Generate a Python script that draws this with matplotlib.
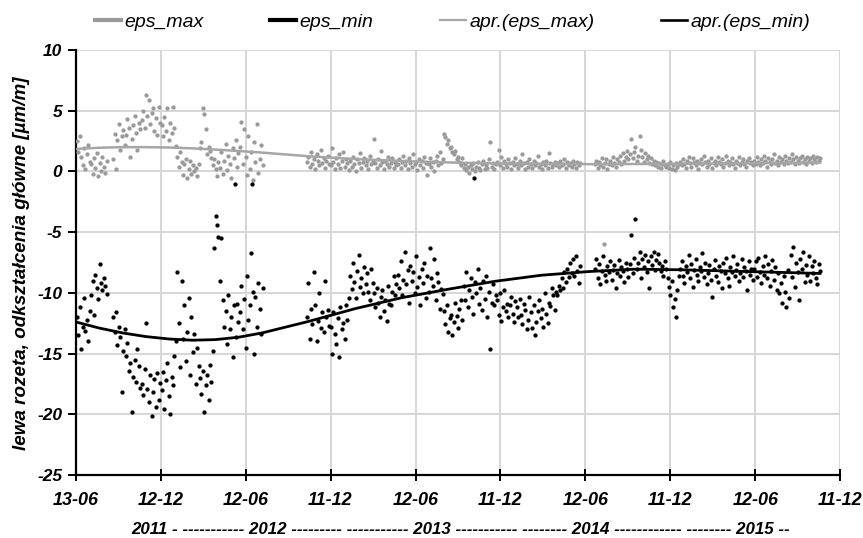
import numpy as np
import matplotlib
matplotlib.use("Agg")
import matplotlib.pyplot as plt
from matplotlib.lines import Line2D

plt.rcParams['font.family'] = ['Liberation Sans', 'DejaVu Sans']

# ---------------- data (days since 2011-06-13) ----------------
seg_days = [(2, 66), (80, 401), (496, 1083), (1115, 1599)]

eps_min_seg1 = [-12.0, -13.5, -11.2, -14.6, -12.8, -10.4, -13.1, -12.2, -14.0, -11.5,
                -10.2, -9.0, -11.8, -8.5, -9.6, -10.5, -7.6, -9.2, -9.8, -8.8, -9.4, -10.1]
eps_min_seg2 = [-12.0, -13.2, -11.6, -14.3, -12.8, -13.6, -18.2, -14.8, -13.0,
                -15.2, -14.1, -16.4, -15.8, -19.8, -16.9, -15.5, -17.3, -14.6, -16.0, -17.8,
                -17.5, -18.4, -16.3, -12.5, -17.9, -19.0, -16.8, -20.1, -18.2, -17.1, -19.4, -16.6, -18.8, -17.4,
                -18.0, -16.5, -19.6, -17.2, -15.8, -18.5, -20.0, -16.9, -17.6, -15.2,
                -14.0, -8.3, -12.5, -16.1, -9.0, -13.8, -11.0, -15.6, -13.2, -10.4, -16.8, -12.0, -14.9, -13.4,
                -17.5, -14.5, -16.0,
                -17.0, -18.3, -16.4, -19.8, -17.6, -16.8, -18.8, -15.9, -17.3,
                -14.8, -6.3, -3.7, -4.4, -5.4,
                -9.0, -5.5, -10.6, -12.8, -11.5, -14.2, -10.2, -13.0, -12.0, -15.3, -11.0, -13.6, -10.9, -12.4,
                -11.6, -9.4, -13.0, -10.5, -14.5, -8.6, -12.2, -11.0, -6.7, -9.9, -15.0, -10.3, -12.8, -9.2,
                -11.3, -13.4, -9.6]
eps_min_seg3 = [-12.0, -9.2, -13.8, -11.3, -12.6, -8.3, -11.0, -14.0, -12.3, -10.0, -12.9, -11.6, -13.2,
                -9.0, -12.0, -11.4, -12.7,
                -12.8, -15.0, -11.6, -13.4, -14.2, -12.1, -15.3, -11.2, -13.0, -12.5, -13.8, -11.0, -12.2, -10.4,
                -8.6, -9.7, -7.5, -9.1, -10.4, -8.2, -6.9, -9.5, -8.8, -10.0, -7.9, -9.3, -8.4, -9.9, -10.6, -8.0, -9.2,
                -10.0, -11.2, -9.6, -10.8, -12.0, -10.3, -9.8, -11.5, -10.6, -12.3, -9.4, -10.9, -11.0, -9.9, -8.6,
                -10.2, -9.3,
                -8.5, -9.6, -7.4, -10.2, -8.9, -6.6, -9.3, -8.1, -10.8, -7.8, -9.0, -8.3, -10.0, -7.0, -9.5, -8.7,
                -11.0, -8.0, -9.2, -7.5, -10.4, -8.6, -9.9, -6.3, -8.8, -9.4, -7.2, -10.6, -8.4, -9.1, -11.3, -9.7, -10.1,
                -11.5, -12.6, -11.0, -13.2, -12.1, -11.8, -13.5, -12.4, -10.8, -11.9, -12.9, -11.3, -10.6, -12.2,
                -9.4, -10.6, -8.3, -11.2, -9.8, -8.8, -10.3, -11.7, -9.1, -10.0, -8.0, -10.9, -9.6, -11.4, -9.0,
                -10.5, -8.6, -12.0, -9.9, -14.6, -10.8, -9.3, -11.0, -10.2,
                -10.6, -11.8, -10.0, -12.3, -11.2, -9.8, -11.5, -10.9, -12.0, -11.0, -10.3, -11.7, -12.4, -10.7,
                -11.2, -12.0, -10.5, -11.8, -12.6, -10.9, -11.4, -13.0, -12.2, -10.3, -11.6, -12.9, -11.0, -13.5,
                -12.4, -11.5, -10.6, -12.1, -11.3, -12.8, -10.0, -11.7, -12.5, -10.8, -11.1, -9.6, -10.2, -11.4, -9.9,
                -10.2, -9.4, -9.8, -8.8, -9.6, -8.3, -9.1, -8.0, -8.7, -7.5, -8.4, -7.2, -8.6, -7.0, -8.2, -9.2, -7.8]
eps_min_seg4 = [-8.0, -7.2, -8.8, -7.6, -9.3, -8.2, -7.0, -8.5, -9.0, -7.8, -8.3, -7.4, -8.9, -8.1, -7.7,
                -9.6, -8.4, -7.3, -8.6, -7.9, -8.2, -9.1, -7.5, -8.0, -8.7,
                -7.6, -5.2, -8.4, -7.1, -3.9, -8.0, -7.5, -6.6, -8.8, -7.2, -7.9, -6.9, -8.3, -7.4, -9.6, -7.0,
                -7.7, -6.6, -8.1, -7.3, -6.8, -7.5, -8.2, -7.8, -8.6, -7.4, -8.0,
                -8.8, -9.5, -10.2, -9.0, -11.2, -10.5, -12.0, -9.8, -8.6,
                -8.0, -7.4, -8.6, -9.2, -7.8, -8.3, -6.9, -8.8, -7.6, -9.5, -8.1, -7.2, -8.5, -9.0, -7.9, -8.2,
                -6.7, -8.7, -7.5, -9.3, -8.4, -7.7, -8.9, -10.3, -8.0, -7.3, -8.6, -9.1, -7.8, -8.2, -9.6, -7.5,
                -8.4, -7.1, -8.8, -9.4, -7.9, -8.3, -7.0, -8.6, -8.1, -7.6, -9.0, -8.4, -7.2, -8.7, -7.9, -8.2,
                -9.8, -7.4, -8.5, -8.0, -8.9,
                -8.0, -7.4, -8.7, -7.1, -8.3, -9.2, -7.8, -8.5, -7.0, -8.8, -7.6, -9.4, -8.2, -7.3, -8.9, -7.9,
                -9.8, -8.4, -10.0, -9.2, -10.8, -8.6, -9.9, -11.2, -8.1, -10.4, -6.9, -8.7, -6.2, -9.5, -7.5, -8.3,
                -10.6, -7.2, -8.0, -6.6, -9.1, -7.7, -8.5, -7.0, -9.0, -7.8, -8.4, -7.4, -8.8, -9.3, -7.6, -8.2]

eps_max_seg1 = [2.5, 1.6, 2.9, 1.2, 0.5, 1.9, 0.2, 1.4, 2.2, 0.8,
                0.6, -0.2, 1.1, 0.3, 1.5, -0.4, 0.7, 0.0, 1.2, 0.4, -0.1, 0.9]
eps_max_seg2 = [1.0, 3.1, 0.2, 2.6, 3.9, 1.8, 2.9, 3.4, 2.2,
                3.0, 4.3, 3.6, 1.2, 2.7, 3.8, 4.6, 3.2, 1.8, 4.0, 3.5,
                4.2, 5.0, 3.6, 6.3, 4.6, 5.9, 3.9, 4.8, 5.2, 3.3, 4.4, 3.0, 5.3, 4.0,
                3.8, 2.9, 4.5, 3.3, 5.2, 2.6, 4.0, 3.2, 5.3, 3.6,
                2.1, 1.2, 0.4, 1.6, 0.8, -0.3, 0.6, 1.0, -0.5, 0.2, 0.9, -0.2, 0.5, 0.0,
                0.3, -0.4, 0.6,
                1.9, 2.4, 5.2, 4.7, 3.5, 1.4, 2.0, 1.7, 1.1,
                0.5, 1.0, 0.2, -0.4, 0.8,
                0.3, 1.6, -0.2, 0.9, 2.3, 0.1, 1.3, 0.6, -0.5, 1.9, 1.1, 2.6, 0.4, 1.5,
                2.0, 4.1, 0.6, 3.5, 1.2, -0.3, 2.9, 0.2, 1.6, -0.7, 2.4, 0.8, 3.9, -0.1, 1.0, 2.2, 0.5]
eps_max_seg3 = [0.8, 1.2, 0.4, 1.6, 0.6, 1.0, 0.2, 1.4, 0.9, 0.5, 1.8, 0.7, 1.1, 0.3, 0.9, 1.3, 0.6,
                0.5, 1.9, 0.8, 0.2, 1.1, 0.6, 1.4, 0.3, 0.9, 1.6, 0.4, 1.0, 0.7, 0.1,
                0.9, 0.4, 1.2, 0.6, 0.0, 1.0, 0.7, 1.5, 0.3, 0.8, 1.1, 0.5, 0.9, 0.2, 1.3, 0.6, 0.8,
                2.7, 0.7, 0.3, 1.0, 0.5, 1.7, 0.8, 0.2, 0.9, 0.6, 1.2, 0.4, 0.7, 1.1, 0.3, 0.8, 0.5,
                0.6, 1.0, 0.3, 0.8, 1.3, 0.5, 0.9, 0.2, 1.1, 0.7, 0.4, 1.4, 0.6, 0.8, 0.1, 1.0, 0.5, 0.9,
                0.3, 1.2, 0.7, -0.3, 0.6, 1.1, 0.4, 0.8, 0.0, 0.9, 1.3, 0.5, 1.6, 0.7, 1.0,
                3.1, 2.8, 2.3, 2.6, 1.9, 2.0, 1.6, 1.4, 1.7, 1.0, 1.2, 0.8, 0.5, 1.1,
                0.3, 0.6, 0.1, 0.4, -0.1, 0.5, 0.2, 0.7, 0.0, 0.4, 0.8, 0.3, 0.1, 0.6, 0.9, 0.2, 0.5, 0.3,
                1.0, 2.4, 0.4, 0.7, 0.2, 0.6,
                0.8, 1.8, 0.5, 1.2, 0.3, 0.9, 0.6, 0.4, 1.0, 0.7, 0.2, 0.8, 0.5, 1.1,
                0.6, 0.3, 0.9, 0.5, 1.4, 0.7, 0.2, 0.8, 0.4, 1.0, 0.6, 0.3, 0.9, 0.5, 0.7, 1.3, 0.4, 0.6,
                0.2, 0.8, 0.5, 0.9, 0.3, 1.5, 0.7, 0.4, 0.6, 0.8, 0.5,
                0.7, 0.4, 0.9, 0.5, 0.6, 1.0, 0.3, 0.8, 0.5, 0.7, 0.4, 0.9, 0.6, 0.3, 0.8, 0.5, 0.7]
eps_max_seg4 = [0.6, 0.9, 0.3, 0.8, 0.5, 1.1, 0.4, 0.7, 1.0, 0.2, 0.6, 0.9, 0.5, 1.2, 0.7, 0.4, 1.0,
                0.8, 1.3, 0.6, 1.5, 0.9, 1.2, 1.7, 1.0,
                1.4, 2.7, 1.1, 1.6, 2.0, 0.9, 1.3, 2.9, 1.8, 1.2, 0.8, 1.5, 1.0, 1.3, 0.7, 1.1, 0.6, 0.9,
                0.5, 0.8, 0.4, 0.7, 0.3, 0.6, 0.9, 0.5, 0.4,
                0.6, 0.3, 0.8, 0.2, 0.5, 0.1, 0.7, 0.4, 0.6,
                0.8, 0.5, 1.0, 0.6, 0.3, 0.9, 1.2, 0.7, 0.4, 1.1, 0.8, 0.5, 0.9, 0.2, 0.7, 1.0, 0.6, 1.3,
                0.8, 0.4, 0.9, 0.6, 1.1, 0.3, 0.7, 0.9, 0.5, 1.2, 0.8, 0.6, 1.0, 0.4, 0.7, 1.3, 0.9, 0.5,
                0.8, 1.1, 0.6, 0.3, 0.9, 0.7, 1.2, 0.5, 0.8, 1.0, 0.6, 0.4, 0.9, 1.1, 0.7, 0.8, 0.5,
                0.9, 0.6, 1.2, 0.8, 0.5, 1.0, 0.7, 1.3, 0.9, 0.4, 1.1, 0.8, 0.6, 1.0, 1.4, 0.7, 0.9, 0.5,
                1.2, 0.8, 1.0, 0.6, 1.3, 0.9, 0.7, 1.1, 0.8, 1.4, 1.0, 0.6, 1.2, 0.9, 0.7, 1.1, 1.3, 0.8,
                1.0, 0.6, 1.2, 0.9, 1.1, 0.7, 1.3, 1.0, 0.8, 1.2, 0.9, 1.1]

# isolated readings
eps_min_extra_days = [342, 378, 855]
eps_min_extra_vals = [-1.0, -1.0, -0.5]
eps_max_extra_days = [1135]
eps_max_extra_vals = [-6.0]

# approximation curves
apr_days = [0, 50, 100, 150, 200, 250, 300, 350, 400, 500, 600, 700, 800, 900, 1000,
            1100, 1200, 1300, 1400, 1500, 1599]
apr_eps_max = [1.85, 1.95, 2.0, 2.0, 1.97, 1.9, 1.8, 1.68, 1.55, 1.25, 1.02, 0.86, 0.74, 0.66, 0.62,
               0.6, 0.61, 0.63, 0.66, 0.69, 0.72]
apr_eps_min = [-12.4, -12.9, -13.3, -13.6, -13.8, -13.9, -13.85, -13.65, -13.3, -12.35, -11.3, -10.4,
               -9.7, -9.05, -8.55, -8.25, -8.05, -8.1, -8.2, -8.3, -8.4]

tick_days = [0, 182, 365, 547, 730, 912, 1095, 1277, 1460, 1642]
tick_labels = ['13-06', '12-12', '12-06', '11-12', '12-06', '11-12', '12-06', '11-12', '12-06', '11-12']
year_row = '2011 - ----------- 2012 --------- ----------- 2013 ----------- -------- 2014 ------------ -------- 2015 --'
y_ticks = [10, 5, 0, -5, -10, -15, -20, -25]


def build(segs, days):
    xs, ys = [], []
    for vals, (a, b) in zip(segs, days):
        xs.append(np.linspace(a, b, len(vals)))
        ys.append(np.asarray(vals, float))
    return np.concatenate(xs), np.concatenate(ys)


x_min, y_min = build([eps_min_seg1, eps_min_seg2, eps_min_seg3, eps_min_seg4], seg_days)
x_max, y_max = build([eps_max_seg1, eps_max_seg2, eps_max_seg3, eps_max_seg4], seg_days)
x_min = np.concatenate([x_min, eps_min_extra_days]); y_min = np.concatenate([y_min, eps_min_extra_vals])
x_max = np.concatenate([x_max, eps_max_extra_days]); y_max = np.concatenate([y_max, eps_max_extra_vals])

GRAY = '#9a9a9a'

fig = plt.figure(figsize=(8.63, 5.38), dpi=100)
ax = fig.add_axes([76/863, 1-475/538, (840-76)/863, (475-50)/538])

ax.scatter(x_max, y_max, s=9.5, color=GRAY, linewidths=0, zorder=3)
ax.scatter(x_min, y_min, s=9.5, color='black', linewidths=0, zorder=4)
ax.plot(apr_days, apr_eps_max, color='#a6a6a6', lw=1.8, zorder=5)
ax.plot(apr_days, apr_eps_min, color='black', lw=2.0, zorder=6)

ax.set_xlim(0, 1642)
ax.set_ylim(-25, 10)
ax.set_xticks(tick_days)
ax.set_xticklabels(tick_labels)
ax.set_yticks(y_ticks)
ax.set_yticklabels([str(v) for v in y_ticks])
ax.grid(True, color='#d6d6d6', lw=1.4, zorder=0)
ax.set_axisbelow(True)
for s in ['top', 'right']:
    ax.spines[s].set_visible(False)
for s in ['left', 'bottom']:
    ax.spines[s].set_linewidth(1.6)
    ax.spines[s].set_color('black')
ax.tick_params(axis='x', direction='inout', length=9, width=1.4, pad=8)
ax.tick_params(axis='y', direction='out', length=6, width=1.4, pad=4)
for lab in ax.get_xticklabels():
    lab.set_fontsize(13)
    lab.set_fontweight('bold')
    lab.set_fontstyle('italic')
for lab in ax.get_yticklabels():
    lab.set_fontsize(12.5)
    lab.set_fontweight('bold')
    lab.set_fontstyle('italic')

fig.text(22/863, 1-263/538, 'lewa rozeta, odkształcenia główne [µm/m]', rotation=90,
         ha='center', va='center', fontsize=13.6, fontweight='bold', fontstyle='italic')
fig.text(461/863, 1-530/538, year_row, ha='center', va='center', fontsize=12.2,
         fontweight='bold', fontstyle='italic')

handles = [Line2D([], [], color=GRAY, lw=3), Line2D([], [], color='black', lw=3),
           Line2D([], [], color='#a6a6a6', lw=1.6), Line2D([], [], color='black', lw=1.9)]
labels = ['eps_max', 'eps_min', 'apr.(eps_max)', 'apr.(eps_min)']
fig.legend(handles, labels, loc='center', bbox_to_anchor=(452.5/863, 1-22/538), ncol=4, frameon=False,
           prop={'size': 14, 'style': 'italic'}, handlelength=1.33, handletextpad=0.2,
           columnspacing=3.4)

fig.savefig('out.png', dpi=100)
